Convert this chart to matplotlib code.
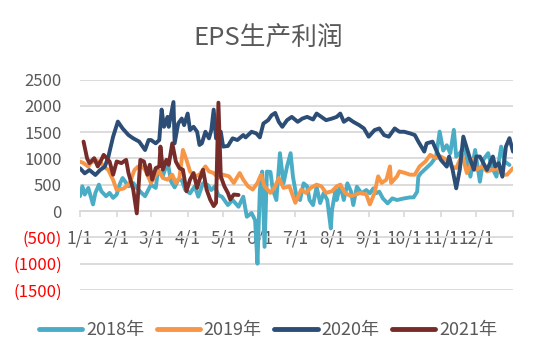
import matplotlib
matplotlib.use("Agg")
import matplotlib.pyplot as plt
from matplotlib.lines import Line2D

plt.rcParams['font.family'] = ['Noto Sans CJK SC', 'DejaVu Sans']

# ---- data (day of year offset from 1/1, value) ----
days_2018 = [0, 2, 4, 7, 9, 11, 13, 16, 18, 22, 25, 28, 31, 34, 36, 41, 45, 48, 52, 55,
             60, 64, 66, 70, 74, 77, 80, 83, 86, 89, 93, 97, 100, 104, 108, 111, 114,
             117, 120, 125, 129, 134, 138, 141, 145, 148, 150, 152, 154, 156, 158, 161,
             163, 166, 169, 172, 175, 178, 180, 183, 186, 189, 192, 194, 197, 200, 203,
             206, 209, 212, 213, 216, 217, 220, 223, 226, 229, 231, 234, 238, 242, 245,
             248, 250, 253, 256, 260, 264, 268, 274, 279, 282, 285, 286, 288, 291, 294,
             297, 301, 304, 307, 310, 313, 316, 318, 321, 325, 330, 334, 338, 341, 345,
             348, 352, 356, 359, 363]
vals_2018 = [283, 471, 314, 440, 283, 126, 345, 502, 377, 283, 345, 251, 314, 534, 628,
             471, 534, 440, 345, 283, 502, 440, 780, 660, 940, 560, 450, 597, 590, 400,
             337, 470, 273, 530, 495, 400, 470, 300, 273, 114, 210, 82, 273, -108, -38,
             -171, -1000, 400, 750, -680, 750, 743, 400, 210, 1100, 527, 845, 1100, 653,
             272, 210, 527, 470, 210, 114, 463, 152, 343, 210, -330, 19, 400, 210, 495,
             210, 527, 375, 114, 463, 337, 400, 337, 432, 337, 368, 241, 146, 241, 210,
             241, 260, 260, 368, 653, 717, 781, 844, 908, 1035, 1510, 1150, 1250, 1100,
             1543, 1035, 1100, 1225, 654, 1160, 558, 980, 1100, 845, 654, 1225, 940, 876]

days_2019 = [0, 3, 7, 9, 13, 18, 20, 24, 28, 31, 37, 42, 46, 49, 52, 55, 60, 64, 67, 70,
             74, 78, 81, 84, 87, 90, 93, 97, 101, 106, 109, 113, 117, 121, 126, 130, 135,
             138, 142, 146, 150, 153, 156, 161, 165, 168, 172, 177, 182, 187, 191, 195,
             200, 204, 208, 213, 217, 220, 224, 229, 233, 237, 242, 245, 249, 252, 255,
             259, 262, 263, 268, 270, 275, 279, 283, 287, 292, 296, 301, 305, 310, 314,
             318, 323, 327, 332, 335, 340, 344, 349, 353, 357, 361, 366]
vals_2019 = [940, 911, 845, 911, 970, 910, 848, 780, 590, 400, 430, 530, 780, 845, 848,
             785, 534, 691, 754, 628, 597, 691, 534, 628, 1162, 973, 754, 660, 691, 848,
             754, 722, 628, 691, 660, 534, 722, 597, 471, 408, 534, 691, 471, 345, 471,
             628, 440, 471, 157, 408, 345, 440, 502, 471, 345, 377, 471, 502, 345, 283,
             314, 345, 314, 126, 345, 660, 534, 597, 848, 534, 660, 754, 722, 691, 691,
             848, 942, 1068, 1005, 1036, 973, 848, 816, 1068, 722, 973, 785, 848, 754,
             785, 816, 691, 691, 816]

days_2020 = [0, 4, 8, 13, 17, 21, 24, 28, 32, 36, 41, 45, 50, 55, 58, 60, 64, 67, 69, 71,
             74, 75, 79, 80, 83, 86, 88, 91, 93, 96, 99, 101, 103, 106, 109, 111, 113,
             115, 119, 121, 125, 129, 133, 138, 140, 145, 149, 152, 155, 159, 162, 165,
             168, 171, 175, 179, 184, 188, 192, 197, 200, 204, 208, 213, 217, 220, 223,
             227, 231, 236, 240, 244, 249, 253, 257, 261, 266, 270, 274, 279, 283, 286,
             291, 293, 298, 301, 305, 310, 312, 315, 318, 321, 324, 327, 330, 333, 335,
             338, 341, 344, 349, 351, 354, 357, 360, 363, 366]
vals_2020 = [813, 717, 780, 686, 780, 845, 1035, 1415, 1700, 1570, 1444, 1382, 1320, 1160,
             1350, 1350, 1287, 1350, 1928, 1601, 1790, 1601, 2072, 1287, 1664, 1758, 1633,
             1853, 1539, 1601, 1507, 1256, 1287, 1507, 1382, 1539, 1928, 1382, 1507, 1225,
             1237, 1382, 1350, 1444, 1400, 1507, 1476, 1400, 1664, 1727, 1821, 1865, 1696,
             1601, 1727, 1790, 1696, 1758, 1790, 1740, 1853, 1790, 1727, 1758, 1790, 1853,
             1696, 1758, 1696, 1633, 1570, 1413, 1539, 1570, 1444, 1413, 1570, 1507, 1507,
             1476, 1444, 1319, 1130, 1287, 1319, 1162, 973, 845, 1036, 780, 432, 785, 1415,
             1193, 971, 785, 1036, 1035, 911, 781, 1036, 848, 911, 653, 1225, 1385, 1130]

days_2021 = [3, 6, 8, 12, 15, 18, 20, 25, 28, 31, 35, 39, 41, 45, 48, 51, 54, 57, 59, 61,
             64, 67, 68, 70, 73, 75, 78, 81, 84, 87, 90, 93, 96, 99, 101, 104, 107, 110,
             113, 115, 117, 119, 122, 125, 127, 130, 134]
vals_2021 = [1320, 1000, 911, 1005, 848, 973, 1068, 942, 691, 942, 911, 973, 722, 408,
             -44, 973, 942, 691, 880, 597, 816, 848, 1225, 785, 973, 880, 1287, 942, 816,
             785, 377, 597, 722, 440, 597, 785, 408, 220, 94, 157, 2060, 660, 471, 345,
             220, 314, 305]

series = [("2018年", days_2018, vals_2018, "#4bacc6"),
          ("2019年", days_2019, vals_2019, "#f79646"),
          ("2020年", days_2020, vals_2020, "#2c4d75"),
          ("2021年", days_2021, vals_2021, "#772c2a")]

month_starts = [0, 31, 60, 91, 121, 152, 182, 213, 244, 274, 305, 335, 366]
month_labels = ["1/1", "2/1", "3/1", "4/1", "5/1", "6/1", "7/1", "8/1", "9/1",
                "10/1", "11/1", "12/1", ""]
y_ticks = [-1500, -1000, -500, 0, 500, 1000, 1500, 2000, 2500]

# ---- figure ----
fig = plt.figure(figsize=(5.36, 3.61), dpi=100)
ax = fig.add_axes([80 / 536, 1 - 290 / 361, (513 - 80) / 536, (290 - 79.5) / 361])

for name, d, v, c in series:
    ax.plot(d, v, color=c, lw=2.8, solid_joinstyle='round', solid_capstyle='round',
            label=name, zorder=3)

ax.set_xlim(0, 366)
ax.set_ylim(-1500, 2500)
ax.set_yticks(y_ticks)
ylabels = [f"({abs(t)})" if t < 0 else f"{t}" for t in y_ticks]
ax.set_yticklabels(ylabels)
for lab, t in zip(ax.get_yticklabels(), y_ticks):
    lab.set_color("#ff0000" if t < 0 else "#595959")
ax.tick_params(axis='y', length=0, pad=13, labelsize=12)
ax.grid(axis='y', color='#d9d9d9', lw=1.3, zorder=0)

ax.set_xticks(month_starts)
ax.set_xticklabels(month_labels)
ax.tick_params(axis='x', direction='out', length=4, width=1.2, color='#d9d9d9',
               labelsize=12.5, labelcolor='#595959', pad=9)

for s in ['top', 'right', 'left']:
    ax.spines[s].set_visible(False)
ax.spines['bottom'].set_position(('data', 0))
ax.spines['bottom'].set_color('#d9d9d9')
ax.spines['bottom'].set_linewidth(1.3)
ax.set_axisbelow(True)

fig.text(0.5, 1 - 38 / 361, "EPS生产利润", ha='center', va='center',
         fontsize=18.5, color='#595959')

handles = [Line2D([0], [0], color=c, lw=3.5, solid_capstyle='round') for _, _, _, c in series]
fig.legend(handles, [s[0] for s in series], loc='center', ncol=4,
           bbox_to_anchor=(0.5, 1 - 330 / 361), frameon=False, fontsize=13,
           handlelength=2.4, handletextpad=0.2, columnspacing=0.7,
           labelcolor='#595959')

fig.savefig("out.png", dpi=100)
